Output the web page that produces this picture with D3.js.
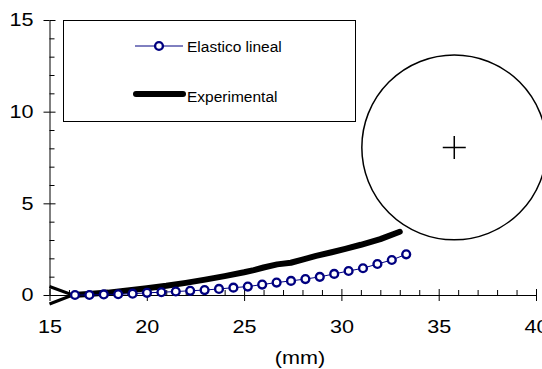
<!DOCTYPE html>
<html><head><meta charset="utf-8">
<script src="https://cdn.jsdelivr.net/npm/d3@7"></script>
<style>
html,body{margin:0;padding:0;background:#fff;}
svg{display:block;}
text{font-family:"Liberation Sans",Arial,sans-serif;fill:#000;}
</style></head>
<body>
<svg id="chart" width="542" height="369"></svg>
<script>
// ---- data ----
const elasticoX = [16.31,17.05,17.79,18.53,19.27,20.01,20.75,21.49,22.23,22.97,23.71,24.45,25.19,25.93,26.67,27.41,28.15,28.89,29.63,30.37,31.11,31.85,32.59,33.33];
const elasticoY = [0,0,0.03,0.04,0.07,0.12,0.15,0.19,0.23,0.27,0.33,0.40,0.46,0.57,0.68,0.77,0.87,0.99,1.15,1.31,1.46,1.69,1.91,2.22];
const experimentalX = [16.2,17.0,18.0,19.0,20.0,21.0,22.0,23.0,24.0,25.0,25.5,26.0,26.7,27.4,28.0,28.7,29.5,30.2,31.0,32.0,33.0];
const experimentalY = [0,0.06,0.13,0.24,0.37,0.50,0.66,0.84,1.03,1.24,1.36,1.50,1.67,1.76,1.93,2.13,2.33,2.52,2.74,3.05,3.45];
const xTicks = [15,20,25,30,35,40];
const yTicks = [0,5,10,15];
const xMinor = d3.range(15,41,1).filter(v=>v%5!==0);
const yMinor = d3.range(0,16,1).filter(v=>v%5!==0);
const seriesNames = ["Elastico lineal","Experimental"];
const xTitle = "(mm)";
const circleCenter = [35.8, 8.05];
const circleRadiusX = 4.75;   // radius in x-units
const arrowTip = [16.2, 0];

// ---- layout ----
const svg = d3.select("#chart");
const x = d3.scaleLinear().domain([15,40]).range([49.5,536]);
const y = d3.scaleLinear().domain([0,15]).range([295,20]);

// minor ticks
svg.append("g").attr("transform",`translate(0,${y(0)})`)
  .call(d3.axisBottom(x).tickValues(xMinor).tickSize(-5).tickFormat(""))
  .call(g=>g.select(".domain").remove());
svg.append("g").attr("transform",`translate(${x(15)},0)`)
  .call(d3.axisLeft(y).tickValues(yMinor).tickSize(-5).tickFormat(""))
  .call(g=>g.select(".domain").remove());
// major inner ticks
svg.append("g").attr("transform",`translate(0,${y(0)})`)
  .call(d3.axisBottom(x).tickValues(xTicks).tickSize(-6).tickFormat(""))
  .call(g=>g.select(".domain").remove());
svg.append("g").attr("transform",`translate(${x(15)},0)`)
  .call(d3.axisLeft(y).tickValues(yTicks).tickSize(-6).tickFormat(""))
  .call(g=>g.select(".domain").remove());
// main axes
const xAx = svg.append("g").attr("transform",`translate(0,${y(0)})`)
  .call(d3.axisBottom(x).tickValues(xTicks).tickSize(6).tickSizeOuter(0).tickFormat(d3.format("d")));
xAx.selectAll("text").attr("y",0).attr("dy",null)
  .attr("transform","translate(0,38) scale(1.2,1)")
  .style("font-size","18px");
const yAx = svg.append("g").attr("transform",`translate(${x(15)},0)`)
  .call(d3.axisLeft(y).tickValues(yTicks).tickSize(6).tickSizeOuter(0).tickFormat(d3.format("d")));
yAx.selectAll("text").attr("x",0)
  .attr("transform","translate(-16,0) scale(1.2,1)")
  .style("font-size","18px");
svg.selectAll(".domain").attr("stroke","#000");
svg.selectAll(".tick line").attr("stroke","#000");
svg.selectAll(".tick text").attr("fill","#000").style("font-family",'"Liberation Sans",Arial,sans-serif');

svg.append("text").attr("x",300).attr("y",364)
  .attr("text-anchor","middle").attr("transform","translate(300,364) scale(1.2,1) translate(-300,-364)")
  .style("font-size","18px").text(xTitle);

// arrow marks at the series start
const tx = x(arrowTip[0]), ty = y(arrowTip[1]);
svg.append("path")
  .attr("d",`M${x(15)},${ty-8.5}L${tx},${ty}L${x(15)},${ty+9}`)
  .attr("fill","none").attr("stroke","#000").attr("stroke-width",3);

// experimental line
const expData = experimentalX.map((v,i)=>[v,experimentalY[i]]);
svg.append("path").datum(expData)
  .attr("d",d3.line().x(d=>x(d[0])).y(d=>y(d[1])))
  .attr("fill","none").attr("stroke","#000").attr("stroke-width",6)
  .attr("stroke-linejoin","round").attr("stroke-linecap","round");

// elastico line + markers
const elData = elasticoX.map((v,i)=>[v,elasticoY[i]]);
svg.append("path").datum(elData)
  .attr("d",d3.line().x(d=>x(d[0])).y(d=>y(d[1])))
  .attr("fill","none").attr("stroke","#000080").attr("stroke-width",1);
svg.append("g").selectAll("circle").data(elData).join("circle")
  .attr("cx",d=>x(d[0])).attr("cy",d=>y(d[1])).attr("r",3.9)
  .attr("fill","#fff").attr("stroke","#000080").attr("stroke-width",2.4);

// big circle with center cross
const cx = x(circleCenter[0]), cy = y(circleCenter[1]);
const cr = x(15+circleRadiusX)-x(15);
svg.append("circle").attr("cx",cx).attr("cy",cy).attr("r",cr)
  .attr("fill","none").attr("stroke","#000").attr("stroke-width",1.5);
svg.append("path").attr("d",`M${cx-11.5},${cy}H${cx+11.5}M${cx},${cy-11.5}V${cy+11.5}`)
  .attr("stroke","#000").attr("stroke-width",1.5);

// legend
const lg = svg.append("g");
lg.append("rect").attr("x",63.5).attr("y",20.5).attr("width",292).attr("height",101)
  .attr("fill","#fff").attr("stroke","#000").attr("stroke-width",1);
lg.append("line").attr("x1",135).attr("x2",183).attr("y1",46).attr("y2",46)
  .attr("stroke","#000080").attr("stroke-width",1);
lg.append("circle").attr("cx",159).attr("cy",46).attr("r",3.9)
  .attr("fill","#fff").attr("stroke","#000080").attr("stroke-width",2.4);
lg.append("text").attr("x",187).attr("y",52).style("font-size","15.5px").text(seriesNames[0]);
lg.append("line").attr("x1",136).attr("x2",183).attr("y1",94).attr("y2",94)
  .attr("stroke","#000").attr("stroke-width",6).attr("stroke-linecap","round");
lg.append("text").attr("x",187).attr("y",102).style("font-size","15.5px").text(seriesNames[1]);
</script>
</body></html>
